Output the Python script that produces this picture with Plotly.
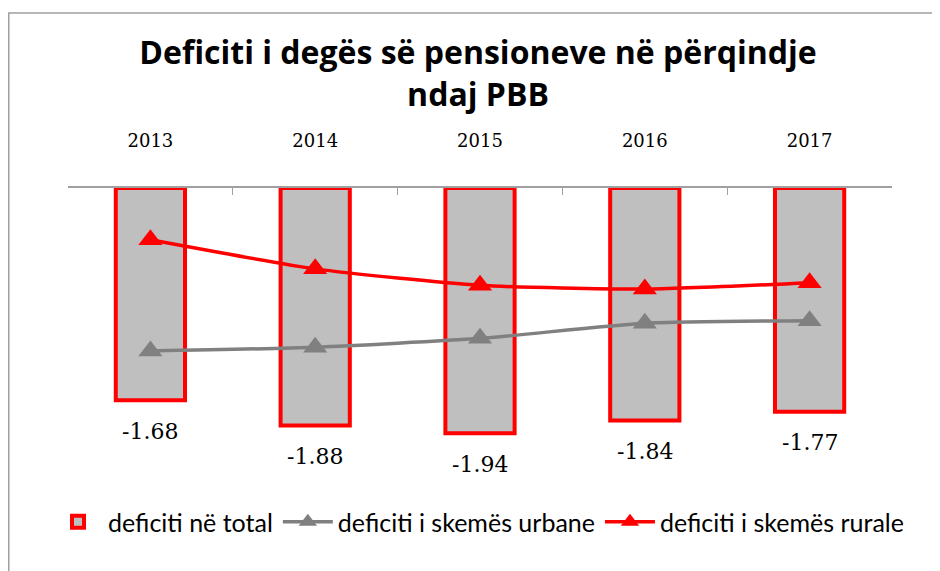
import plotly.graph_objects as go

years = ["2013", "2014", "2015", "2016", "2017"]
total = [-1.68, -1.88, -1.94, -1.84, -1.77]
urban = [-1.29, -1.26, -1.19, -1.07, -1.05]
rural = [-0.41, -0.64, -0.77, -0.80, -0.75]

W, H = 940, 571
L, R, T, B = 60, 56, 180, 113
pw, ph = W - L - R, H - T - B

def px_x(p):
    return (p - L) / pw

def px_y(p):
    return (H - B - p) / ph

fig = go.Figure()
fig.add_trace(go.Bar(
    x=years, y=total, name="deficiti në total",
    marker=dict(color="#BFBFBF", line=dict(color="#FF0000", width=4)),
    width=0.42,
))
fig.add_trace(go.Scatter(
    x=years, y=urban, name="deficiti i skemës urbane", mode="lines+markers",
    line=dict(color="#808080", width=3.5, shape="spline", smoothing=0.6),
    marker=dict(symbol="triangle-up", size=21, color="#808080"),
))
fig.add_trace(go.Scatter(
    x=years, y=rural, name="deficiti i skemës rurale", mode="lines+markers",
    line=dict(color="#FF0000", width=3.5, shape="spline", smoothing=0.6),
    marker=dict(symbol="triangle-up", size=21, color="#FF0000"),
))

for i, v in enumerate(total):
    fig.add_annotation(x=i, y=v, text=f"{v:.2f}", showarrow=False,
                       yanchor="middle", yshift=-31,
                       font=dict(family="DejaVu Serif", size=22, color="#000000"))

fig.add_shape(type="rect", xref="paper", yref="paper",
              x0=px_x(0.75), x1=px_x(960), y0=px_y(600), y1=px_y(5),
              line=dict(color="#A0A0A0", width=1.5), layer="below")

fig.update_layout(
    width=W, height=H,
    margin=dict(l=L, r=R, t=T, b=B),
    paper_bgcolor="white", plot_bgcolor="white",
    title=dict(text="Deficiti i degës së pensioneve në përqindje<br>ndaj PBB",
               x=470 / W, xanchor="center",
               y=1 - 56 / H, yanchor="middle", yref="container",
               font=dict(family="Open Sans", size=32, color="#000000", weight="bold")),
    showlegend=True,
    legend=dict(orientation="h", x=px_x(40), xanchor="left",
                y=px_y(514), yanchor="middle",
                font=dict(family="Lato", size=25, color="#000000"),
                itemwidth=50, tracegroupgap=0),
    xaxis=dict(side="top", type="category", tickson="boundaries",
               range=[-0.5, 4.5],
               showline=True, linecolor="#A0A0A0", linewidth=1.5,
               ticks="inside", ticklen=7, tickcolor="#A0A0A0",
               showgrid=False, zeroline=False, ticklabelstandoff=32,
               tickfont=dict(family="DejaVu Serif", size=18, color="#000000")),
    yaxis=dict(visible=False, range=[-2.2, 0], showgrid=False, zeroline=False),
)

fig.write_html("out.html")
